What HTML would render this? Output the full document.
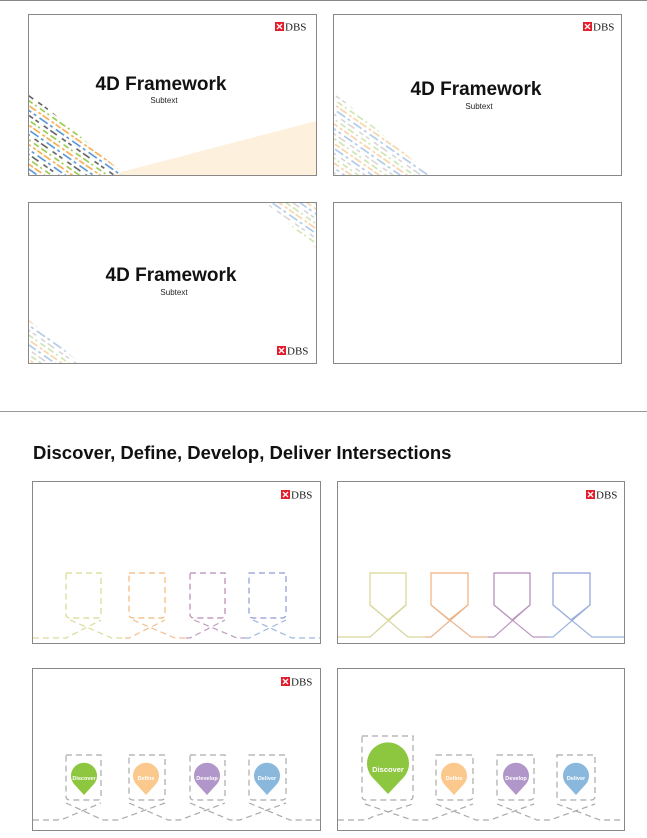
<!DOCTYPE html>
<html><head><meta charset="utf-8"><style>
html,body{margin:0;padding:0;background:#fff;width:647px;height:838px;overflow:hidden}
svg{display:block;font-family:"Liberation Sans",sans-serif}
</style></head><body>
<svg width="647" height="838" viewBox="0 0 647 838" xmlns="http://www.w3.org/2000/svg">
<defs>
<pattern id="st" width="40" height="16" patternUnits="userSpaceOnUse" patternTransform="rotate(35)">
<line x1="0" y1="2" x2="40" y2="2" stroke="#8dc63f" stroke-width="1.6" stroke-dasharray="6 3 2 4"/>
<line x1="0" y1="6" x2="40" y2="6" stroke="#f7a541" stroke-width="1.4" stroke-dasharray="3 2 8 3"/>
<line x1="0" y1="10" x2="40" y2="10" stroke="#4a8fd0" stroke-width="1.6" stroke-dasharray="10 3 3 4"/>
<line x1="0" y1="14" x2="40" y2="14" stroke="#555" stroke-width="1.4" stroke-dasharray="4 6 5 3"/>
</pattern>
<pattern id="st2" width="40" height="16" patternUnits="userSpaceOnUse" patternTransform="rotate(35)">
<line x1="0" y1="2" x2="40" y2="2" stroke="#c9e3a8" stroke-width="1.4" stroke-dasharray="6 3 2 4"/>
<line x1="0" y1="6" x2="40" y2="6" stroke="#f8cfa0" stroke-width="1.4" stroke-dasharray="3 2 8 3"/>
<line x1="0" y1="10" x2="40" y2="10" stroke="#a7c6e6" stroke-width="1.4" stroke-dasharray="10 3 3 4"/>
<line x1="0" y1="14" x2="40" y2="14" stroke="#ccc" stroke-width="1.2" stroke-dasharray="4 6 5 3"/>
</pattern>
<g id="logo"><rect x="0" y="0" width="9" height="9" fill="#e31d2b"/><path d="M2 2L7 7M7 2L2 7" stroke="#fff" stroke-width="1.3"/><text x="10" y="8.5" font-family="Liberation Serif,serif" font-size="11" fill="#222">DBS</text></g>
</defs>
<line x1="0" y1="0.5" x2="647" y2="0.5" stroke="#888"/>
<line x1="0" y1="411.5" x2="647" y2="411.5" stroke="#999"/>

<rect x="28.5" y="14.5" width="288" height="161" fill="#fff" stroke="#888"/>
<polygon points="110,175 316,121 316,175" fill="#fdf0dc"/>
<polygon points="29,92 29,175 125,175" fill="url(#st)"/>
<use href="#logo" x="275" y="22"/>
<text x="161" y="90" font-size="19" font-weight="bold" text-anchor="middle" fill="#111">4D Framework</text>
<text x="164" y="103" font-size="8" text-anchor="middle" fill="#222">Subtext</text>

<rect x="333.5" y="14.5" width="288" height="161" fill="#fff" stroke="#888"/>
<polygon points="334,92 334,175 430,175" fill="url(#st2)"/>
<use href="#logo" x="583" y="22"/>
<text x="476" y="95" font-size="19" font-weight="bold" text-anchor="middle" fill="#111">4D Framework</text>
<text x="479" y="109" font-size="8" text-anchor="middle" fill="#222">Subtext</text>

<rect x="28.5" y="202.5" width="288" height="161" fill="#fff" stroke="#888"/>
<polygon points="266,203 316,203 316,248" fill="url(#st2)"/>
<polygon points="29,320 29,363 80,363" fill="url(#st2)"/>
<use href="#logo" x="277" y="346"/>
<text x="171" y="281" font-size="19" font-weight="bold" text-anchor="middle" fill="#111">4D Framework</text>
<text x="174" y="295" font-size="8" text-anchor="middle" fill="#222">Subtext</text>

<rect x="333.5" y="202.5" width="288" height="161" fill="#fff" stroke="#888"/>

<text x="33" y="459" font-size="18.5" font-weight="bold" fill="#111">Discover, Define, Develop, Deliver Intersections</text>

<rect x="32.5" y="481.5" width="288" height="162" fill="#fff" stroke="#888"/>
<use href="#logo" x="281" y="490"/>
<g fill="none" stroke-width="1.2" stroke-dasharray="6 4">
<path d="M66 573H101V614Q101 618 97 618H70Q66 618 66 614Z" stroke="#d7d98e"/>
<path d="M129 573H165V614Q165 618 161 618H133Q129 618 129 614Z" stroke="#f3b77a"/>
<path d="M190 573H225V614Q225 618 221 618H194Q190 618 190 614Z" stroke="#b889b5"/>
<path d="M249 573H286V614Q286 618 282 618H253Q249 618 249 614Z" stroke="#8d9bd6"/>
<path d="M33 638H66L101 620M70 620L112 638H125" stroke="#d9dc9c"/>
<path d="M125 638H129L165 620M133 620L175 638H186" stroke="#f2bf8c"/>
<path d="M186 638H190L225 620M194 620L237 638H245" stroke="#bf9cc2"/>
<path d="M245 638H249L286 620M253 620L292 638H320" stroke="#9ab6dc"/>
</g>
<rect x="337.5" y="481.5" width="287" height="162" fill="#fff" stroke="#888"/>
<use href="#logo" x="586" y="490"/>
<g fill="none" stroke-width="1.2">
<path d="M370 573H406V605L388 620L370 605Z" stroke="#d9d68f"/>
<path d="M431 573H468V605L449 620L431 605Z" stroke="#f1b07a"/>
<path d="M494 573H530V605L512 620L494 605Z" stroke="#b187b8"/>
<path d="M553 573H590V605L571 620L553 605Z" stroke="#8f9fd6"/>
<path d="M338 637H370L406 605M370 605L408 637H425" stroke="#d6d59a"/>
<path d="M425 637H431L468 605M431 605L471 637H488" stroke="#eab48c"/>
<path d="M488 637H494L530 605M494 605L533 637H548" stroke="#bb98c0"/>
<path d="M548 637H553L590 605M553 605L592 637H624" stroke="#9cb4dc"/>
</g>
<rect x="32.5" y="668.5" width="288" height="162" fill="#fff" stroke="#888"/>
<use href="#logo" x="281" y="677"/>
<g fill="none" stroke="#aaa" stroke-width="1.2" stroke-dasharray="6 4">
<path d="M66 755H101V796Q101 800 97 800H70Q66 800 66 796Z"/>
<path d="M129 755H165V796Q165 800 161 800H133Q129 800 129 796Z"/>
<path d="M190 755H225V796Q225 800 221 800H194Q190 800 190 796Z"/>
<path d="M249 755H286V796Q286 800 282 800H253Q249 800 249 796Z"/>
<path d="M33 820H55Q62 820 68 817L101 803M66 803L103 820H118L165 803M129 803L168 820H180L225 803M190 803L230 820H240L286 803M249 803L290 820H320"/>
</g>
<g font-size="5.5" fill="#fff" text-anchor="middle" font-weight="bold">
<path d="M84 795L74 784A13 13 0 1 1 94 784Z" fill="#8dc63f"/><text x="84" y="780">Discover</text>
<path d="M146 795L136 784A13 13 0 1 1 156 784Z" fill="#fbc98d"/><text x="146" y="780">Define</text>
<path d="M207 795L197 784A13 13 0 1 1 217 784Z" fill="#b197c9"/><text x="207" y="780">Develop</text>
<path d="M267 795L257 784A13 13 0 1 1 277 784Z" fill="#8ab8dc"/><text x="267" y="780">Deliver</text>
</g>
<rect x="337.5" y="668.5" width="287" height="162" fill="#fff" stroke="#888"/>
<g fill="none" stroke="#aaa" stroke-width="1.2" stroke-dasharray="6 4">
<path d="M362 736H413V796Q413 800 409 800H366Q362 800 362 796Z"/>
<path d="M436 755H473V796Q473 800 469 800H440Q436 800 436 796Z"/>
<path d="M497 755H534V796Q534 800 530 800H501Q497 800 497 796Z"/>
<path d="M557 755H595V796Q595 800 591 800H561Q557 800 557 796Z"/>
<path d="M338 820H360Q368 820 372 817L413 804M365 804L412 820H430L473 804M436 804L476 820H490L534 804M497 804L537 820H550L595 804M557 804L600 820H624"/>
</g>
<g fill="#fff" text-anchor="middle" font-weight="bold">
<path d="M388 794L372 777A21 21 0 1 1 404 777Z" fill="#8dc63f"/><text x="388" y="772" font-size="7.5">Discover</text>
<path d="M454 795L444 784A13 13 0 1 1 464 784Z" fill="#fbc98d"/><text x="454" y="780" font-size="5.5">Define</text>
<path d="M516 795L506 784A13 13 0 1 1 526 784Z" fill="#b197c9"/><text x="516" y="780" font-size="5.5">Develop</text>
<path d="M576 795L566 784A13 13 0 1 1 586 784Z" fill="#8ab8dc"/><text x="576" y="780" font-size="5.5">Deliver</text>
</g>
</svg>
</body></html>
